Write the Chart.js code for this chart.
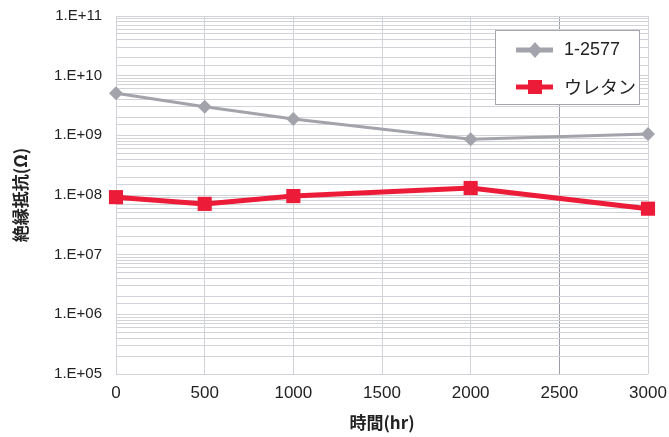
<!DOCTYPE html>
<html>
<head>
<meta charset="utf-8">
<script src="https://cdn.jsdelivr.net/npm/chart.js@4"></script>
<style>
  html, body { margin: 0; padding: 0; background: #fff; }
  #wrap { width: 669px; height: 437px; }
</style>
</head>
<body>
<div id="wrap"><canvas id="chart" width="669" height="437"></canvas></div>
<script>
const hours = [0, 500, 1000, 2000, 3000];
const vals2577 = [5.06e9, 3.02e9, 1.88e9, 8.6e8, 1.05e9];
const valsUrethane = [9.2e7, 7.1e7, 9.6e7, 1.31e8, 5.9e7];
const seriesNames = ["1-2577", "ウレタン"];
const xTitle = "時間(hr)";
const yTitle = "絶縁抵抗(Ω)";

const gray = "#a3a3ab";
const red = "#ec1c38";
const gridColor = "#d2d2d9";
const latin = "'Liberation Sans', Arial, sans-serif";
const jp = "'Noto Sans CJK JP', sans-serif";

// legend box drawn inside the plot, top right
const boxLegend = {
  id: "boxLegend",
  afterDraw(chart) {
    const ctx = chart.ctx;
    const x0 = 495, y0 = 30, w = 144, h = 74;
    ctx.save();
    ctx.fillStyle = "#fff";
    ctx.fillRect(x0, y0, w, h);
    ctx.strokeStyle = "#a5a5ad";
    ctx.lineWidth = 1;
    ctx.strokeRect(x0 + 0.5, y0 + 0.5, w, h);
    chart.data.datasets.forEach((ds, i) => {
      const y = y0 + 20 + i * 37;
      ctx.strokeStyle = ds.borderColor;
      ctx.lineWidth = 5;
      ctx.beginPath();
      ctx.moveTo(x0 + 21, y);
      ctx.lineTo(x0 + 58, y);
      ctx.stroke();
      ctx.fillStyle = ds.backgroundColor;
      ctx.beginPath();
      if (ds.pointStyle === "rect") {
        ctx.rect(x0 + 40 - 7, y - 7, 14, 14);
      } else {
        ctx.moveTo(x0 + 40, y - 8);
        ctx.lineTo(x0 + 47, y);
        ctx.lineTo(x0 + 40, y + 8);
        ctx.lineTo(x0 + 33, y);
        ctx.closePath();
      }
      ctx.fill();
      ctx.fillStyle = "#222";
      ctx.font = "18px " + (i === 1 ? jp : latin);
      ctx.textBaseline = "middle";
      ctx.fillText(ds.label, x0 + 69, y);
    });
    ctx.restore();
  }
};

new Chart(document.getElementById("chart"), {
  type: "line",
  data: {
    datasets: [
      {
        label: seriesNames[0],
        data: hours.map((h, i) => ({ x: h, y: vals2577[i] })),
        borderColor: gray, backgroundColor: gray,
        borderWidth: 3, pointStyle: "rectRot", pointRadius: 7,
        pointBorderWidth: 0, tension: 0
      },
      {
        label: seriesNames[1],
        data: hours.map((h, i) => ({ x: h, y: valsUrethane[i] })),
        borderColor: red, backgroundColor: red,
        borderWidth: 5, pointStyle: "rect", pointRadius: 10,
        pointBorderWidth: 0, tension: 0
      }
    ]
  },
  options: {
    responsive: false,
    animation: false,
    clip: false,
    layout: { padding: { top: 16, right: 21, left: 0, bottom: 0 } },
    plugins: { legend: { display: false }, tooltip: { enabled: false } },
    scales: {
      x: {
        type: "linear", min: 0, max: 3000,
        ticks: {
          stepSize: 500, color: "#222", font: { family: latin, size: 17 }, padding: 9, maxRotation: 0,
          callback: v => String(v)
        },
        grid: {
          color: ctx => ctx.tick && ctx.tick.value === 2500 ? "#9c9ca6" : gridColor,
          lineWidth: 1, drawTicks: false
        },
        border: { display: false },
        title: { display: true, text: xTitle, color: "#222", font: { family: jp, size: 17, weight: "bold" }, padding: { top: 10 } },
        afterFit: s => { s.height = 63; s.paddingLeft = 0; s.paddingRight = 0; }
      },
      y: {
        type: "logarithmic", min: 1e5, max: 1e11,
        ticks: {
          autoSkip: false, color: "#222", padding: 14,
          font: { family: latin, size: 15 },
          callback: v => {
            const e = Math.log10(v);
            if (Math.abs(e - Math.round(e)) > 1e-9) return "";
            return "1.E+" + String(Math.round(e)).padStart(2, "0");
          }
        },
        grid: { color: gridColor, lineWidth: 1, drawTicks: false },
        border: { display: false },
        title: { display: true, text: yTitle, color: "#222", font: { family: jp, size: 17, weight: "bold" }, padding: { top: 10, bottom: 10 } },
        afterFit: s => { s.width = 116; s.paddingTop = 0; s.paddingBottom = 0; }
      }
    }
  },
  plugins: [boxLegend]
});
</script>
</body>
</html>
